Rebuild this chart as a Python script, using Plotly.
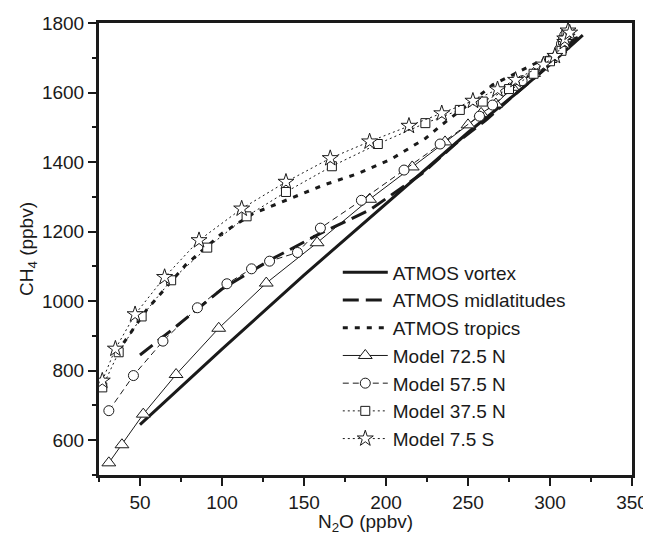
import plotly.graph_objects as go

# ATMOS correlation curves
vortex_n2o = [50, 100, 150, 200, 250, 280, 300, 320]
vortex_ch4 = [645, 862, 1075, 1280, 1485, 1600, 1680, 1765]

midlat_n2o = [50, 72, 100, 130, 160, 190, 222, 243, 261, 277, 300, 316]
midlat_ch4 = [845, 927, 1035, 1120, 1195, 1262, 1367, 1455, 1521, 1588, 1680, 1758]

tropics_n2o = [40, 54, 78, 100, 119, 141, 162, 183, 203, 224, 234, 250, 265, 276, 300, 318]
tropics_ch4 = [880, 975, 1105, 1195, 1252, 1295, 1334, 1367, 1408, 1468, 1507, 1565, 1622, 1648, 1705, 1762]

# model profiles
m72_n2o = [31, 39, 52, 72, 98, 127, 158, 190, 216, 236, 250, 258, 267, 277, 290, 300, 306, 310, 308, 311]
m72_ch4 = [535, 587, 675, 789, 922, 1052, 1168, 1293, 1386, 1458, 1507, 1540, 1567, 1615, 1655, 1695, 1723, 1770, 1745, 1775]

m57_n2o = [31, 46, 64, 85, 103, 118, 129, 146, 160, 185, 211, 233, 257, 265, 283, 298, 306, 309, 307]
m57_ch4 = [685, 786, 885, 981, 1050, 1093, 1115, 1140, 1210, 1290, 1377, 1452, 1532, 1564, 1634, 1690, 1725, 1765, 1740]

m37_n2o = [27, 37, 51, 69, 91, 115, 139, 167, 195, 224, 245, 259, 275, 290, 300, 307, 310, 308]
m37_ch4 = [752, 853, 956, 1060, 1154, 1244, 1314, 1388, 1452, 1512, 1550, 1574, 1610, 1654, 1690, 1720, 1768, 1750]

m75_n2o = [27, 35, 47, 65, 86, 112, 139, 166, 190, 214, 234, 253, 268, 279, 296, 303, 309, 311, 309, 312]
m75_ch4 = [771, 863, 962, 1069, 1175, 1266, 1343, 1411, 1459, 1504, 1540, 1576, 1609, 1636, 1680, 1705, 1745, 1778, 1755, 1772]

FONT = "Liberation Sans, Arial, Helvetica, sans-serif"
INK = "#1a1a1a"

fig = go.Figure()

fig.add_trace(go.Scatter(x=vortex_n2o, y=vortex_ch4, mode="lines", name="ATMOS vortex",
                         line=dict(color=INK, width=3)))
fig.add_trace(go.Scatter(x=midlat_n2o, y=midlat_ch4, mode="lines", name="ATMOS midlatitudes",
                         line=dict(color=INK, width=3, dash="16px,7px")))
fig.add_trace(go.Scatter(x=tropics_n2o, y=tropics_ch4, mode="lines", name="ATMOS tropics",
                         line=dict(color=INK, width=3, dash="5px,7px")))

def model(xs, ys, name, symbol, size, dash):
    fig.add_trace(go.Scatter(
        x=xs, y=ys, mode="lines+markers", name=name,
        line=dict(color=INK, width=1, dash=dash),
        marker=dict(symbol=symbol, size=size, color="white",
                    line=dict(color=INK, width=1))))

model(m72_n2o, m72_ch4, "Model 72.5 N", "triangle-up", 12, "solid")
model(m57_n2o, m57_ch4, "Model 57.5 N", "circle", 10, "6px,4px")
model(m37_n2o, m37_ch4, "Model 37.5 N", "square", 9, "2px,3px")
model(m75_n2o, m75_ch4, "Model 7.5 S", "star", 12, "2px,3px")

axis = dict(showline=True, linewidth=3, linecolor=INK, mirror=True,
            ticks="outside", ticklen=8, tickwidth=2, tickcolor=INK,
            showgrid=False, zeroline=False, automargin=False,
            tickfont=dict(size=19, color=INK), title_font=dict(size=19, color=INK))

fig.update_xaxes(range=[25, 350], dtick=50, tick0=0,
                 minor=dict(dtick=25, tick0=0, ticks="outside", ticklen=4, tickwidth=2, tickcolor=INK),
                 title_text="N<sub>2</sub>O (ppbv)", title_standoff=2, **axis)
fig.update_yaxes(range=[500, 1800], dtick=200, tick0=0,
                 minor=dict(dtick=100, tick0=0, ticks="outside", ticklen=4, tickwidth=2, tickcolor=INK),
                 title_text="CH<sub>4</sub> (ppbv)", title_standoff=4, **axis)

# the page body adds an 8px offset, so the figure is sized to fit the window
fig.update_layout(
    width=643, height=527,
    margin=dict(l=91, r=19, t=15, b=60),
    paper_bgcolor="white", plot_bgcolor="white",
    font=dict(family=FONT, size=19, color=INK),
    legend=dict(x=0.448, y=0.49, xanchor="left", yanchor="top",
                bgcolor="rgba(0,0,0,0)", itemwidth=45,
                font=dict(size=19), tracegroupgap=0),
)

fig.write_html("out.html")
